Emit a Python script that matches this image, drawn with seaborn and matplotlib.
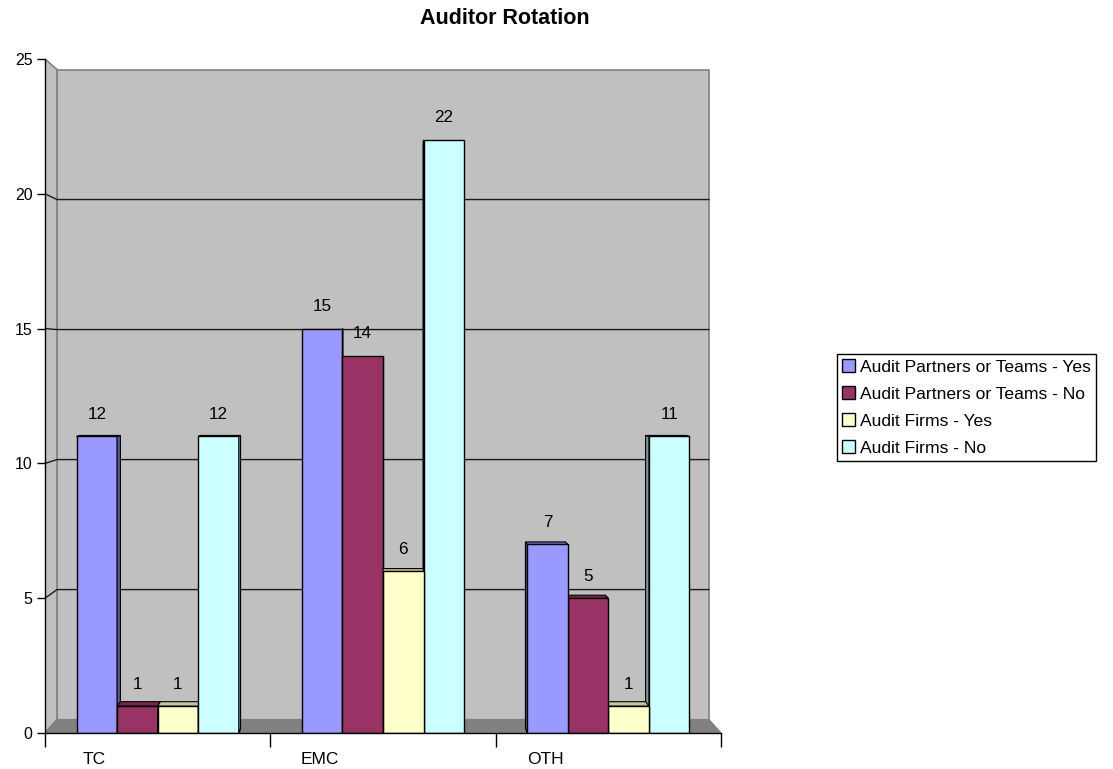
import numpy as np
import pandas as pd
import matplotlib.pyplot as plt
import seaborn as sns
from matplotlib.patches import Polygon

categories = ["TC", "EMC", "OTH"]
series = [
    "Audit Partners or Teams - Yes",
    "Audit Partners or Teams - No",
    "Audit Firms - Yes",
    "Audit Firms - No",
]
# bar heights as drawn
partners_yes = [11, 15, 7]
partners_no = [1, 14, 5]
firms_yes = [1, 6, 1]
firms_no = [11, 22, 11]
# data labels as printed above the bars
partners_yes_lbl = ["12", "15", "7"]
partners_no_lbl = ["1", "14", "5"]
firms_yes_lbl = ["1", "6", "1"]
firms_no_lbl = ["12", "22", "11"]

colors = ["#9999FF", "#993366", "#FFFFCC", "#CCFFFF"]


def shade(c, f):
    r, g, b = [int(c[i:i + 2], 16) / 255 for i in (1, 3, 5)]
    return (r * f, g * f, b * f)


values = [partners_yes, partners_no, firms_yes, firms_no]
labels = [partners_yes_lbl, partners_no_lbl, firms_yes_lbl, firms_no_lbl]
df = pd.DataFrame(
    [(cat, s, v[i]) for s, v in zip(series, values) for i, cat in enumerate(categories)],
    columns=["category", "series", "value"],
)

sns.set_theme(style="white")
plt.rcParams["font.family"] = ["Liberation Sans", "DejaVu Sans"]
plt.rcParams["text.color"] = "black"
plt.rcParams["xtick.color"] = "black"
plt.rcParams["ytick.color"] = "black"

fig = plt.figure(figsize=(11.13, 7.69), dpi=100)
ax = fig.add_axes([45 / 1113, 1 - 733 / 769, 676 / 1113, 674 / 769])
ax.set_facecolor("none")

sns.barplot(
    data=df, x="category", y="value", hue="series", order=categories,
    hue_order=series, palette=colors, width=0.72, saturation=1,
    edgecolor="black", linewidth=1, errorbar=None, ax=ax,
)
handles, leg_labels = ax.get_legend_handles_labels()
if ax.get_legend() is not None:
    ax.get_legend().remove()

xl, xr, yb, yt = -0.5, 2.5, 0, 25
ax.set_xlim(xl, xr)
ax.set_ylim(yb, yt)

# simple perspective: points move towards a vanishing point with depth
V = np.array([1.0, 14.0])
K_WALL = 0.0355
K_BAR = 0.0124


def proj(x, y, k):
    return (x + k * (V[0] - x), y + k * (V[1] - y))


bl, br = proj(xl, yb, K_WALL), proj(xr, yb, K_WALL)
tl, tr = proj(xl, yt, K_WALL), proj(xr, yt, K_WALL)
ax.add_patch(Polygon([bl, br, tr, tl], closed=True, fc="#C0C0C0", ec="#808080", lw=1.2, zorder=0.5))
ax.add_patch(Polygon([(xl, yb), (xl, yt), tl, bl], closed=True, fc="#C0C0C0", ec="#808080", lw=1.2, zorder=0.6))
ax.add_patch(Polygon([(xl, yb), (xr, yb), br, bl], closed=True, fc="#808080", ec="#808080", lw=1, zorder=0.7))
for v in [5, 10, 15, 20]:
    p0 = proj(xl, v, K_WALL)
    p1 = proj(xr, v, K_WALL)
    ax.plot([xl, p0[0], p1[0]], [v, p0[1], p1[1]], color="#1a1a1a", lw=1, zorder=0.8)

# 3D faces of the bars
for h, cont in enumerate(ax.containers):
    for i, bar in enumerate(cont):
        x0 = bar.get_x()
        x1 = x0 + bar.get_width()
        y1 = bar.get_height()
        cx = x0 + bar.get_width() / 2
        right = cx <= V[0]
        z = 3 + h if right else 3 + (4 - h)
        bar.set_zorder(z)
        xs = x1 if right else x0
        side = [(xs, 0), (xs, y1), proj(xs, y1, K_BAR), proj(xs, 0, K_BAR)]
        ax.add_patch(Polygon(side, closed=True, fc=shade(colors[h], 0.6), ec="black", lw=0.8, zorder=z + 0.5))
        if y1 < V[1]:
            top = [(x0, y1), (x1, y1), proj(x1, y1, K_BAR), proj(x0, y1, K_BAR)]
            ax.add_patch(Polygon(top, closed=True, fc=shade(colors[h], 0.78), ec="black", lw=0.8, zorder=z + 0.5))
        ax.annotate(labels[h][i], (cx, y1), xytext=(0, 22), textcoords="offset pixels",
                    ha="center", va="center", fontsize=12.3, color="black", zorder=20)

for s in ["top", "right"]:
    ax.spines[s].set_visible(False)
for s in ["left", "bottom"]:
    ax.spines[s].set_color("black")
    ax.spines[s].set_linewidth(1)
    ax.spines[s].set_zorder(10)

ax.set_yticks([0, 5, 10, 15, 20, 25])
ax.tick_params(axis="y", direction="out", length=6, width=1, color="black",
               labelcolor="black", labelsize=11.5, pad=3, left=True)
ax.set_xticks([-0.5, 0.5, 1.5, 2.5])
ax.set_xticklabels([])
ax.set_xticks(np.arange(len(categories)) - 0.28, minor=True)
ax.set_xticklabels(categories, minor=True)
ax.tick_params(axis="x", which="major", direction="out", length=10, width=1, color="black", bottom=True)
ax.tick_params(axis="x", which="minor", length=0, labelsize=12.5, labelcolor="black", pad=14)
ax.set_xlabel("")
ax.set_ylabel("")

fig.text(505 / 1113, 1 - 19 / 769, "Auditor Rotation", ha="center", va="center",
         fontsize=15.5, fontweight="bold", color="black")

leg = fig.legend(handles, leg_labels, loc="upper left",
                 bbox_to_anchor=(837 / 1113, 1 - 354 / 769), frameon=True,
                 fancybox=False, edgecolor="black", framealpha=1, fontsize=12.6,
                 handlelength=0.75, handleheight=0.75, handletextpad=0.25,
                 labelspacing=0.66, borderpad=0.3, borderaxespad=0)
leg.get_frame().set_linewidth(1)

fig.savefig("out.png", dpi=100)
